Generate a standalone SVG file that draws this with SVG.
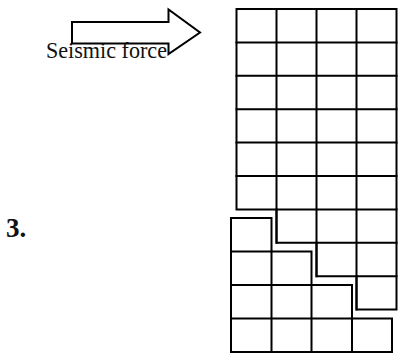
<svg xmlns="http://www.w3.org/2000/svg" width="398" height="354" viewBox="0 0 398 354">
<style>
.ln{fill:none;stroke:#000;stroke-width:2;stroke-linecap:square;stroke-linejoin:miter}
.lbl{font-family:"Liberation Serif","Times New Roman",serif;fill:#111}
</style>
<rect width="398" height="354" fill="#fff"/>
<g id="force-arrow">
<polygon class="ln" points="72,22 168.5,22 168.5,9.5 200,32.5 168.5,54 168.5,43.5 72,43.5" style="fill:#fff"/>
<text class="lbl" x="46" y="57.5" font-size="23" textLength="121" lengthAdjust="spacingAndGlyphs">Seismic force</text>
</g>
<g id="label-3">
<text class="lbl" x="6" y="236.5" font-size="27" font-weight="bold">3.</text>
</g>
<g id="upper-block">
<path class="ln" d="M236.5,9 H396.5 V309.6 H356.5 V276.2 H316.5 V242.8 H276.5 V209.4 H236.5 Z"/>
<path class="ln" d="M236.5,42.4 H396.5 M236.5,75.8 H396.5 M236.5,109.2 H396.5 M236.5,142.6 H396.5 M236.5,176 H396.5 M276.5,209.4 H396.5 M316.5,242.8 H396.5 M356.5,276.2 H396.5"/>
<path class="ln" d="M276.5,9 V242.8 M316.5,9 V276.2 M356.5,9 V309.6"/>
</g>
<g id="lower-block">
<path class="ln" d="M231,218 H271.5 V251.5 H311.5 V285 H352 V318.5 H392 V352 H231 Z"/>
<path class="ln" d="M231,251.5 H271.5 M231,285 H311.5 M231,318.5 H352"/>
<path class="ln" d="M271.5,251.5 V352 M311.5,285 V352 M352,318.5 V352"/>
</g>
</svg>
